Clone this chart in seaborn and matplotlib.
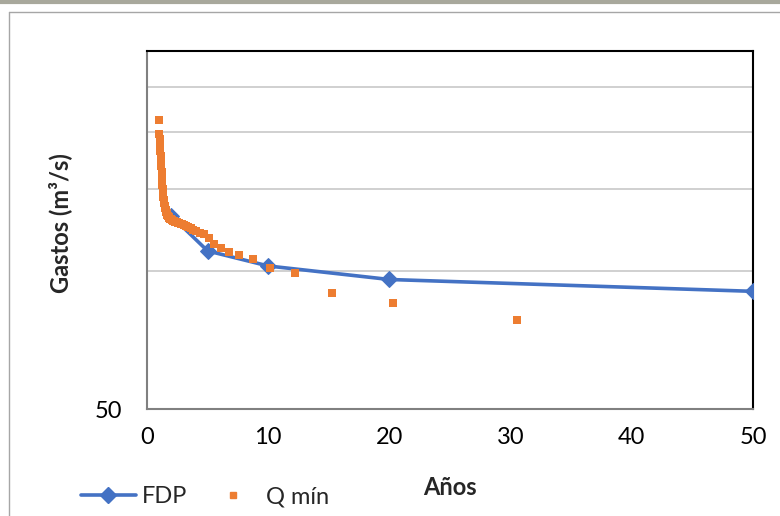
import matplotlib
matplotlib.use("Agg")
import matplotlib.pyplot as plt
import pandas as pd
import seaborn as sns
from matplotlib.lines import Line2D

# FDP (fitted distribution) - return period vs discharge
fdp_years = [2, 5, 10, 20, 50]
fdp_flow = [131.5, 110.3, 102.3, 95.6, 90.1]

# observed minimum flows, plotting positions (years) and discharges
qmin_years = [30.5, 20.33, 15.25, 12.2, 10.17, 8.71, 7.63, 6.78, 6.1, 5.55,
              5.08, 4.69, 4.36, 4.07, 3.81, 3.59, 3.39, 3.21, 3.05, 2.90,
              2.77, 2.65, 2.54, 2.44, 2.35, 2.26, 2.18, 2.10, 2.03, 1.97,
              1.91, 1.85, 1.79, 1.74, 1.69, 1.65, 1.61, 1.56, 1.53, 1.49,
              1.45, 1.42, 1.39, 1.36, 1.33, 1.30, 1.27, 1.24, 1.22, 1.20,
              1.17, 1.15, 1.13, 1.11, 1.09, 1.07, 1.05, 1.03, 1.02]
qmin_flow = [78.2, 84.8, 89.5, 98.6, 101.2, 105.7, 108.1, 109.7, 112.2, 114.0,
             117.4, 119.9, 120.9, 121.7, 122.6, 123.5, 124.1, 124.8, 125.4, 126.0,
             126.4, 126.7, 127.0, 127.3, 127.6, 128.0, 128.3, 128.6, 129.0, 129.3,
             129.6, 130.0, 130.6, 131.3, 131.9, 132.6, 133.3, 134.3, 135.3, 136.7,
             138.4, 140.2, 142.2, 144.4, 147.4, 150.4, 153.5, 156.6, 159.7, 163.8,
             168.7, 173.0, 177.5, 182.0, 185.8, 189.4, 193.3, 198.0, 212.0]

x_ticks = [0, 10, 20, 30, 40, 50]
y_ticks = [50, 100, 150, 200, 250]
y_labels = ["50", "", "", "", ""]

sns.set_style("white")
plt.rcParams["font.family"] = ["Lato", "DejaVu Sans"]

blue = "#4472C4"
orange = "#ED7D31"
fs = 17

fig = plt.figure(figsize=(7.8, 5.16), dpi=100)
ax = fig.add_axes([147 / 780, 1 - 409 / 516, 606 / 780, 358 / 516])

fdp = pd.DataFrame({"Años": fdp_years, "Gastos": fdp_flow})
qmin = pd.DataFrame({"Años": qmin_years, "Gastos": qmin_flow})

sns.lineplot(data=fdp, x="Años", y="Gastos", ax=ax, color=blue, linewidth=2.6,
             marker="D", markersize=8, markeredgecolor=blue, zorder=3)
sns.scatterplot(data=qmin, x="Años", y="Gastos", ax=ax, color=orange, marker="s",
                s=26, linewidth=0, zorder=4)

ax.set_yscale("log")
ax.set_xlim(0, 50)
ax.set_ylim(50, 300)
ax.set_xticks(x_ticks)
ax.set_xticklabels([str(t) for t in x_ticks])
ax.set_yticks(y_ticks)
ax.set_yticklabels(y_labels)
ax.minorticks_off()
ax.tick_params(axis="both", length=0, labelsize=fs, colors="black")
ax.tick_params(axis="x", pad=13)
ax.tick_params(axis="y", pad=18)
ax.grid(axis="y", color="#c8c8c8", linewidth=1.2)

for side in ["left", "bottom"]:
    ax.spines[side].set_color("#808080")
    ax.spines[side].set_linewidth(1.5)
for side in ["top", "right"]:
    ax.spines[side].set_color("black")
    ax.spines[side].set_linewidth(1.5)

ax.set_xlabel("Años", fontsize=fs, fontweight="bold")
ax.set_ylabel("")
ax.xaxis.set_label_coords((450 - 147) / 606, -(476 - 409) / 358)
fig.text(60 / 780, 1 - 223 / 516, "Gastos (m³/s)", rotation=90, ha="center",
         va="center", fontsize=fs, fontweight="bold")

handles = [
    Line2D([], [], color=blue, linewidth=2.6, marker="D", markersize=8),
    Line2D([], [], color=orange, linestyle="none", marker="s", markersize=5),
]
fig.legend(handles, ["FDP", "Q mín"], loc="center left",
           bbox_to_anchor=(0.077, 0.037), ncol=2, frameon=False, fontsize=fs,
           handlelength=2.3, handletextpad=0.25, columnspacing=0.8)

# outer chart frame
fig.add_artist(Line2D([0, 1], [1 - 1.5 / 516, 1 - 1.5 / 516], color="#a8a89c", linewidth=3))
fig.add_artist(Line2D([8.5 / 780, 1], [1 - 11.5 / 516, 1 - 11.5 / 516], color="#a6a6a6", linewidth=1))
fig.add_artist(Line2D([8.5 / 780, 8.5 / 780], [0, 1 - 11.5 / 516], color="#a6a6a6", linewidth=1))

fig.savefig("out.png", dpi=100)
